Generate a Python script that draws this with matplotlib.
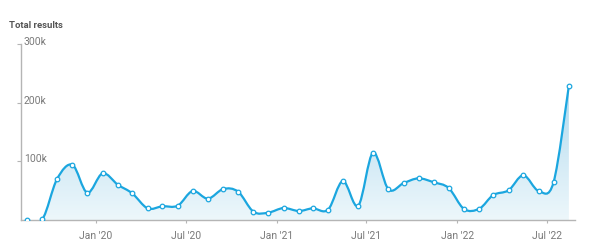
import matplotlib
matplotlib.use("Agg")
import matplotlib.pyplot as plt
import matplotlib.dates as mdates
from matplotlib.path import Path
from matplotlib.patches import PathPatch
from matplotlib.colors import LinearSegmentedColormap
import numpy as np
import datetime as dt

plt.rcParams['font.family'] = ['Roboto', 'DejaVu Sans']

# Data: monthly totals, Aug 2019 .. Aug 2022
start_year, start_month = 2019, 8
values_k = [0, 1, 70, 94, 46.5, 79.5, 60, 45.4, 19.9, 23.3, 24.4, 49.4, 36.4,
            52.8, 48.3, 14.2, 12.5, 20.4, 15.3, 19.9, 17.6, 66.4, 24.4, 114.7,
            52.3, 63, 71, 64.2, 54.5, 18.7, 19.3, 42.6, 50.6, 76.2, 49.4, 64.2,
            228.8]
y_ticks = [100000, 200000, 300000]
y_tick_labels = ["100k", "200k", "300k"]
x_tick_dates = [dt.date(2020, 1, 1), dt.date(2020, 7, 1), dt.date(2021, 1, 1),
                dt.date(2021, 7, 1), dt.date(2022, 1, 1), dt.date(2022, 7, 1)]
x_tick_labels = ["Jan '20", "Jul '20", "Jan '21", "Jul '21", "Jan '22", "Jul '22"]
title = "Total results"

dates = []
for i in range(len(values_k)):
    m = start_month - 1 + i
    dates.append(dt.date(start_year + m // 12, m % 12 + 1, 15))
x = mdates.date2num(dates)
y = np.array(values_k) * 1000

LINE = "#1ba6df"
AXIS = "#b5b5b5"
TXT = "#7a7a7a"

fig = plt.figure(figsize=(6, 2.5), dpi=100)
ax = fig.add_axes([0.035, 0.12, 0.923, 0.704])
ax.set_xlim(mdates.date2num(dt.date(2019, 8, 3)), mdates.date2num(dt.date(2022, 8, 27)))
ax.set_ylim(0, 300000)

# smooth curve (Catmull-Rom as cubic Bezier)
P = np.column_stack([x, y])
Pext = np.vstack([P[0], P, P[-1]])
verts = [tuple(P[0])]
codes = [Path.MOVETO]
for i in range(len(P) - 1):
    p0, p1, p2, p3 = Pext[i], Pext[i + 1], Pext[i + 2], Pext[i + 3]
    c1 = p1 + (p2 - p0) / 6
    c2 = p2 - (p3 - p1) / 6
    verts += [tuple(c1), tuple(c2), tuple(p2)]
    codes += [Path.CURVE4] * 3
line_path = Path(verts, codes)

fill_verts = verts + [(x[-1], 0), (x[0], 0), verts[0]]
fill_codes = codes + [Path.LINETO, Path.LINETO, Path.CLOSEPOLY]
fill_patch = PathPatch(Path(fill_verts, fill_codes), facecolor='none', edgecolor='none')
ax.add_patch(fill_patch)

grad = np.linspace(0, 1, 256).reshape(-1, 1)
cmap = LinearSegmentedColormap.from_list("g", ["#edf7fb", "#d0e9f5", "#acd8ee"])
im = ax.imshow(grad, extent=[x[0], x[-1], 0, y.max()], origin='lower',
               cmap=cmap, aspect='auto', zorder=1)
im.set_clip_path(fill_patch)

ax.add_patch(PathPatch(line_path, facecolor='none', edgecolor=LINE, lw=1.6, zorder=3))
ax.plot(x, y, 'o', ms=3.3, mfc='white', mec=LINE, mew=0.9, zorder=4, ls='none')

for s in ['top', 'right']:
    ax.spines[s].set_visible(False)
for s in ['left', 'bottom']:
    ax.spines[s].set_color(AXIS)
    ax.spines[s].set_linewidth(1.0)

ax.set_xticks(mdates.date2num(x_tick_dates))
ax.set_xticklabels(x_tick_labels)
ax.tick_params(axis='x', length=2, color=AXIS, labelsize=7.5, labelcolor=TXT, pad=6)
ax.set_yticks(y_ticks)
ax.set_yticklabels([])
ax.tick_params(axis='y', length=3, color=AXIS)
for v, lab in zip(y_ticks, y_tick_labels):
    ax.annotate(lab, xy=(0, v), xycoords=('axes fraction', 'data'),
                xytext=(2, 1.5), textcoords='offset points',
                ha='left', va='center', fontsize=7.5, color=TXT)

fig.text(9 / 600, 1 - 26 / 250, title, fontsize=6.8, fontweight='bold',
         color='#555555', ha='left', va='center')

fig.savefig("out.png", dpi=100)
